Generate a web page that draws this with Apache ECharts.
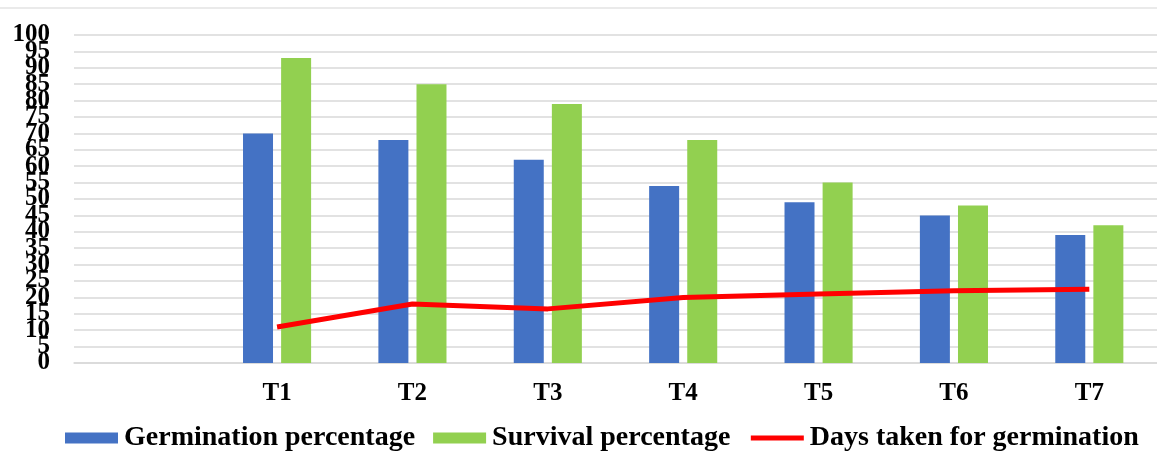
<!DOCTYPE html>
<html>
<head>
<meta charset="utf-8">
<script src="https://cdn.jsdelivr.net/npm/echarts@6/dist/echarts.min.js"></script>
<style>html,body{margin:0;padding:0;background:#fff;}#c{width:1157px;height:458px;}</style>
</head>
<body>
<div id="c"></div>
<script>
var categories = ['', 'T1', 'T2', 'T3', 'T4', 'T5', 'T6', 'T7'];
var germination = [null, 70, 68, 62, 54, 49, 45, 39];
var survival = [null, 93, 85, 79, 68, 55, 48, 42];
var daysTaken = [null, 11, 18, 16.5, 20, 21, 22, 22.5];
var yMin = 0, yMax = 100, yStep = 5;

var serif = '"Liberation Serif", "DejaVu Serif", serif';
var labelFont = {fontFamily: serif, fontWeight: 'bold', fontSize: 25, color: '#000'};
var chart = echarts.init(document.getElementById('c'));
chart.setOption({
  animation: false,
  backgroundColor: '#fff',
  graphic: [{
    type: 'line', shape: {x1: 0, y1: 8, x2: 1157, y2: 8},
    style: {stroke: '#e3e3e3', lineWidth: 1.5}, silent: true
  }],
  grid: {left: 74, right: -1, top: 35, bottom: 95, containLabel: false},
  legend: {
    bottom: 1, left: 60, itemGap: 18, itemWidth: 53, itemHeight: 11,
    textStyle: {fontFamily: serif, fontWeight: 'bold', fontSize: 28, color: '#000', padding: [0, 0, 0, 1]},
    data: [
      {name: 'Germination percentage', icon: 'rect'},
      {name: 'Survival percentage', icon: 'rect'},
      {name: 'Days taken for germination', itemStyle: {color: 'rgba(0,0,0,0)', opacity: 0, borderWidth: 0},
       lineStyle: {width: 5, color: '#ff0000'}}
    ]
  },
  xAxis: {
    type: 'category', data: categories,
    axisLine: {lineStyle: {color: '#d9d9d9', width: 1.5}},
    axisTick: {show: false},
    axisLabel: Object.assign({interval: 0, margin: 18}, labelFont)
  },
  yAxis: [
    {
      type: 'value', min: yMin, max: yMax, interval: yStep,
      axisLine: {show: false}, axisTick: {show: false},
      splitLine: {lineStyle: {color: '#d9d9d9', width: 1.5}},
      axisLabel: Object.assign({margin: 24, showMinLabel: false, showMaxLabel: false, hideOverlap: false}, labelFont)
    },
    {
      type: 'value', position: 'left', min: yMin, max: yMax, interval: yStep,
      axisLine: {show: false}, axisTick: {show: false}, splitLine: {show: false},
      axisLabel: Object.assign({margin: 24, showMinLabel: true, showMaxLabel: true, hideOverlap: false,
        formatter: function (v) { return (v === yMin || v === yMax) ? String(v) : ''; }}, labelFont)
    }
  ],
  series: [
    {name: 'Germination percentage', type: 'bar', data: germination, barWidth: 30, barGap: '27%', itemStyle: {color: '#4472c4'}},
    {name: 'Survival percentage', type: 'bar', data: survival, barWidth: 30, barGap: '27%', itemStyle: {color: '#92d050'}},
    {name: 'Days taken for germination', type: 'line', data: daysTaken, symbol: 'none', connectNulls: false,
     lineStyle: {color: '#ff0000', width: 5}, itemStyle: {color: '#ff0000'}}
  ]
});
</script>
</body>
</html>
